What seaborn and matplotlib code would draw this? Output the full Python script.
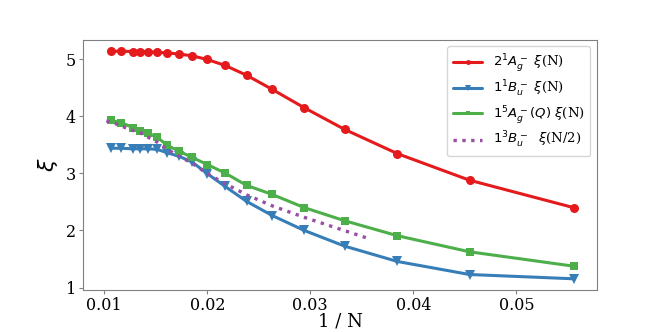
import numpy as np
import pandas as pd
import matplotlib
matplotlib.use("Agg")
import matplotlib.pyplot as plt
import seaborn as sns

# chain lengths N, plotted as 1/N
N = [94, 86, 78, 74, 70, 66, 62, 58, 54, 50, 46, 42, 38, 34, 30, 26, 22, 18]
xi_2Ag = [5.14, 5.14, 5.135, 5.135, 5.13, 5.12, 5.11, 5.09, 5.06, 4.995,
          4.89, 4.72, 4.47, 4.15, 3.77, 3.345, 2.88, 2.40]
xi_1Bu = [3.44, 3.44, 3.43, 3.43, 3.43, 3.42, 3.36, 3.30, 3.20, 2.995,
          2.77, 2.51, 2.26, 2.00, 1.725, 1.456, 1.228, 1.153]
xi_5Ag = [3.93, 3.89, 3.80, 3.74, 3.70, 3.63, 3.49, 3.39, 3.28, 3.155,
          3.005, 2.79, 2.63, 2.40, 2.17, 1.907, 1.626, 1.374]

N_half = [98, 90, 82, 78, 74, 70, 66, 62, 58, 54, 50, 46, 42, 38, 34, 31, 28]
xi_3Bu = [3.92, 3.87, 3.79, 3.75, 3.71, 3.63, 3.545, 3.42, 3.30, 3.18, 2.995,
          2.82, 2.625, 2.43, 2.23, 2.06, 1.855]

sns.set_style("white")
plt.rcParams['font.family'] = ['DejaVu Serif']
plt.rcParams['mathtext.fontset'] = 'dejavusans'
plt.rcParams['axes.edgecolor'] = '0.5'
plt.rcParams['text.color'] = 'black'
plt.rcParams['axes.labelcolor'] = 'black'

fig, ax = plt.subplots(figsize=(6.64, 3.32), dpi=100)
fig.subplots_adjust(left=0.125, right=0.899, top=0.88, bottom=0.126)

x = 1 / np.array(N)
xh = 1 / np.array(N_half)

sns.lineplot(x=x, y=xi_2Ag, ax=ax, color='#e41a1c', marker='o', markersize=6.5,
             markeredgewidth=0, linewidth=2.2, label=r'$2^1A_g^-\ \xi$(N)')
sns.lineplot(x=x, y=xi_1Bu, ax=ax, color='#377eb8', marker='v', markersize=7,
             markeredgewidth=0, linewidth=2.2, label=r'$1^1B_u^-\ \xi$(N)')
sns.lineplot(x=x, y=xi_5Ag, ax=ax, color='#4daf4a', marker='s', markersize=6,
             markeredgewidth=0, linewidth=2.2, label=r'$1^5A_g^-(Q)\ \xi$(N)')
sns.lineplot(x=xh, y=xi_3Bu, ax=ax, color='#984ea3', linestyle=':',
             linewidth=2.4, label=r'$1^3B_u^-\ \ \xi$(N/2)')

ax.set_xticks([0.01, 0.02, 0.03, 0.04, 0.05])
ax.set_yticks([1, 2, 3, 4, 5])
ax.tick_params(labelsize=11.5, labelcolor='black', bottom=True, left=True,
               length=3, color='0.5', pad=2)
ax.set_xlabel('1 / N', fontsize=13, labelpad=-1)
ax.set_ylabel(r'$\xi$', fontsize=16, labelpad=4)
ax.legend(loc='upper right', fontsize=9.5, markerscale=0.55, handlelength=2.2,
          borderpad=0.45, labelspacing=0.35)

fig.savefig('out.png')
